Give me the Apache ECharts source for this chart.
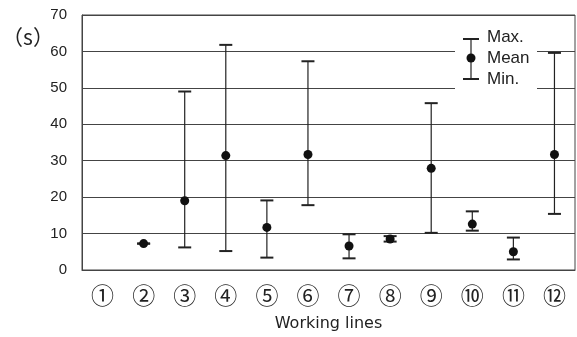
<!DOCTYPE html>
<html><head><meta charset="utf-8">
<script src="https://cdn.jsdelivr.net/npm/echarts@6/dist/echarts.min.js"></script>
<style>html,body{margin:0;padding:0;background:#fff}#c{width:577px;height:337px}</style>
</head><body><div id="c"></div>
<script>
var categories = ['①','②','③','④','⑤','⑥','⑦','⑧','⑨','⑩','⑪','⑫'];
var maxValues  = [null, 7.3, 49.0, 61.8, 19.1, 57.3, 9.8, 9.3, 45.8, 16.1, 8.9, 59.6];
var meanValues = [null, 7.25, 19.0, 31.4, 11.7, 31.7, 6.6, 8.5, 27.9, 12.6, 5.0, 31.7];
var minValues  = [null, 7.2, 6.2, 5.2, 3.4, 17.8, 3.2, 7.8, 10.2, 10.8, 2.9, 15.4];
var yTicks = [0, 10, 20, 30, 40, 50, 60, 70];
var legendLabels = ['Max.', 'Mean', 'Min.'];
var xTitle = 'Working lines';
var yUnit = '（s）';

var errData = [];
for (var i = 0; i < categories.length; i++) {
  if (maxValues[i] != null) errData.push([i, minValues[i], maxValues[i]]);
}
var meanData = meanValues.map(function (v, i) { return v == null ? null : [i, v]; }).filter(function (d) { return d; });

var chart = echarts.init(document.getElementById('c'), null, {renderer: 'canvas'});
var lineCol = '#222';
var latin = 'Liberation Sans';
chart.setOption({
  animation: false,
  backgroundColor: '#fff',
  grid: {left: 82, right: 2, top: 15, bottom: 64, show: true, borderColor: '#444', borderWidth: 1},
  xAxis: {
    type: 'category', data: categories, boundaryGap: true,
    axisLine: {show: true, lineStyle: {color: '#444'}},
    axisTick: {show: false},
    axisLabel: {fontSize: 23, fontFamily: 'Noto Sans CJK JP', color: '#222', margin: 14},
    name: xTitle, nameLocation: 'middle', nameGap: 46,
    nameTextStyle: {fontSize: 16, fontFamily: 'DejaVu Sans', color: '#222'}
  },
  yAxis: {
    type: 'value', min: yTicks[0], max: yTicks[yTicks.length - 1], interval: yTicks[1] - yTicks[0],
    axisLine: {show: true, lineStyle: {color: '#444'}},
    axisTick: {show: false},
    axisLabel: {fontSize: 15, fontFamily: latin, color: '#222', margin: 15},
    splitLine: {show: true, lineStyle: {color: '#444', width: 1}}
  },
  graphic: [
    {type: 'text', x: 28, y: 37, style: {text: yUnit, font: '21px "Noto Sans CJK JP"', fill: '#222', textAlign: 'center', textVerticalAlign: 'middle'}},
    {type: 'rect', shape: {x: 455, y: 28, width: 82, height: 66}, style: {fill: '#fff'}, z: 50},
    {type: 'line', shape: {x1: 463, y1: 39, x2: 479, y2: 39}, style: {stroke: lineCol, lineWidth: 2}, z: 51},
    {type: 'line', shape: {x1: 471, y1: 39, x2: 471, y2: 79}, style: {stroke: lineCol, lineWidth: 1.2}, z: 51},
    {type: 'line', shape: {x1: 463, y1: 79, x2: 479, y2: 79}, style: {stroke: lineCol, lineWidth: 2}, z: 51},
    {type: 'circle', shape: {cx: 471, cy: 58, r: 4.5}, style: {fill: '#111'}, z: 51},
    {type: 'text', x: 487, y: 37.5, style: {text: legendLabels[0], font: '17px "Liberation Sans"', fill: '#222', textVerticalAlign: 'middle'}, z: 51},
    {type: 'text', x: 487, y: 58.5, style: {text: legendLabels[1], font: '17px "Liberation Sans"', fill: '#222', textVerticalAlign: 'middle'}, z: 51},
    {type: 'text', x: 487, y: 79, style: {text: legendLabels[2], font: '17px "Liberation Sans"', fill: '#222', textVerticalAlign: 'middle'}, z: 51}
  ],
  series: [
    {
      type: 'custom',
      data: errData,
      z: 10,
      renderItem: function (params, api) {
        var x = api.value(0);
        var lo = api.coord([x, api.value(1)]);
        var hi = api.coord([x, api.value(2)]);
        var hw = 6.5;
        return {
          type: 'group',
          children: [
            {type: 'line', shape: {x1: hi[0], y1: hi[1], x2: lo[0], y2: lo[1]}, style: {stroke: lineCol, lineWidth: 1.2}},
            {type: 'line', shape: {x1: hi[0] - hw, y1: hi[1], x2: hi[0] + hw, y2: hi[1]}, style: {stroke: lineCol, lineWidth: 2}},
            {type: 'line', shape: {x1: lo[0] - hw, y1: lo[1], x2: lo[0] + hw, y2: lo[1]}, style: {stroke: lineCol, lineWidth: 2}}
          ]
        };
      }
    },
    {
      type: 'scatter', data: meanData, symbol: 'circle', symbolSize: 9, z: 11,
      itemStyle: {color: '#111', opacity: 1}
    }
  ]
});
</script></body></html>
